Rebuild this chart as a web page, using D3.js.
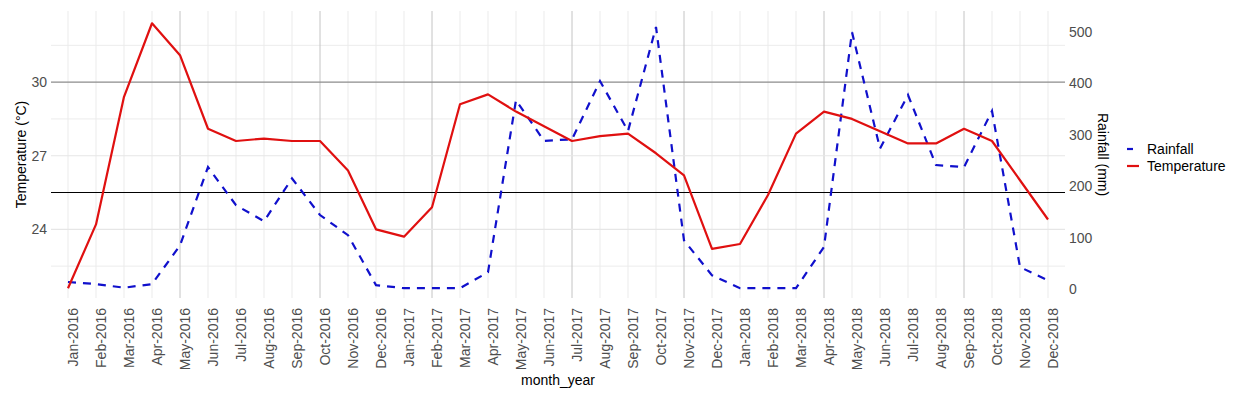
<!DOCTYPE html>
<html>
<head>
<meta charset="utf-8">
<script src="https://cdn.jsdelivr.net/npm/d3@7"></script>
<style>
  body { margin: 0; background: #fff; }
  svg { display: block; font-family: "Liberation Sans", Arial, sans-serif; }
</style>
</head>
<body>
<script>
// months shown on the x axis
var months = ["Jan-2016","Feb-2016","Mar-2016","Apr-2016","May-2016","Jun-2016","Jul-2016","Aug-2016",
  "Sep-2016","Oct-2016","Nov-2016","Dec-2016","Jan-2017","Feb-2017","Mar-2017","Apr-2017","May-2017",
  "Jun-2017","Jul-2017","Aug-2017","Sep-2017","Oct-2017","Nov-2017","Dec-2017","Jan-2018","Feb-2018",
  "Mar-2018","Apr-2018","May-2018","Jun-2018","Jul-2018","Aug-2018","Sep-2018","Oct-2018","Nov-2018","Dec-2018"];

// mean temperature (°C)
var temperature = [21.6, 24.2, 29.4, 32.4, 31.1, 28.1, 27.6, 27.7, 27.6, 27.6, 26.4, 24.0,
  23.7, 24.9, 29.1, 29.5, 28.8, 28.2, 27.6, 27.8, 27.9, 27.1, 26.2, 23.2,
  23.4, 25.4, 27.9, 28.8, 28.5, 28.0, 27.5, 27.5, 28.1, 27.6, 26.0, 24.4];

// rainfall (mm)
var rainfall = [14, 10, 3, 10, 85, 237, 163, 132, 215, 144, 105, 8,
  2, 2, 2, 33, 367, 288, 291, 404, 307, 509, 95, 27,
  2, 2, 2, 82, 499, 273, 377, 241, 237, 346, 43, 17];

var tempTicks = [24, 27, 30];
var tempMinor = [22.5, 25.5, 28.5, 31.5];
var rainTicks = [0, 100, 200, 300, 400, 500];
var refTemp = 25.5;

var W = 1241, H = 396;
var panel = {left: 51, right: 1065, top: 11, bottom: 298};

var svg = d3.select("body").append("svg")
  .attr("width", W)
  .attr("height", H);

var x = d3.scalePoint()
  .domain(months)
  .range([68, 1048]);

var yT = d3.scaleLinear()
  .domain([21.2, 32.9])
  .range([panel.bottom, panel.top]);

var yR = d3.scaleLinear()
  .domain([-17, 540])
  .range([panel.bottom, panel.top]);

// grid
var grid = svg.append("g");
grid.selectAll("line.minor")
  .data(tempMinor).enter()
  .append("line")
  .attr("x1", panel.left).attr("x2", panel.right)
  .attr("y1", d => yT(d)).attr("y2", d => yT(d))
  .attr("stroke", "#ececec").attr("stroke-width", 1);

// vertical gridlines; a few render darker in the reference
var darkMonths = ["May-2016","Oct-2016","Feb-2017","Jul-2017","Nov-2017","Apr-2018","Sep-2018"];
grid.selectAll("line.vx")
  .data(months).enter()
  .append("line")
  .attr("x1", d => x(d)).attr("x2", d => x(d))
  .attr("y1", panel.top).attr("y2", panel.bottom)
  .attr("stroke", d => darkMonths.indexOf(d) >= 0 ? "#c4c4c4" : "#ebebeb")
  .attr("stroke-width", 1);

grid.selectAll("line.major")
  .data(tempTicks).enter()
  .append("line")
  .attr("x1", panel.left).attr("x2", panel.right)
  .attr("y1", d => yT(d)).attr("y2", d => yT(d))
  .attr("stroke", d => d == 30 ? "#8c8c8c" : "#e6e6e6")
  .attr("stroke-width", 1.2);

// reference line
svg.append("line")
  .attr("x1", panel.left).attr("x2", panel.right)
  .attr("y1", yT(refTemp)).attr("y2", yT(refTemp))
  .attr("stroke", "#000").attr("stroke-width", 1.2);

// lines
var rainLine = d3.line()
  .x((d, i) => x(months[i]))
  .y(d => yR(d));

var tempLine = d3.line()
  .x((d, i) => x(months[i]))
  .y(d => yT(d));

svg.append("path")
  .datum(rainfall)
  .attr("fill", "none")
  .attr("stroke", "#1010cc")
  .attr("stroke-width", 2.2)
  .attr("stroke-dasharray", "8,7")
  .attr("d", rainLine);

svg.append("path")
  .datum(temperature)
  .attr("fill", "none")
  .attr("stroke", "#e01010")
  .attr("stroke-width", 2.2)
  .attr("stroke-linejoin", "round")
  .attr("d", tempLine);

// left axis labels
svg.append("g").selectAll("text")
  .data(tempTicks).enter()
  .append("text")
  .attr("x", 47)
  .attr("y", d => yT(d))
  .attr("dy", "0.35em")
  .attr("text-anchor", "end")
  .attr("font-size", 14)
  .attr("fill", "#4d4d4d")
  .text(d => d);

// right axis labels
svg.append("g").selectAll("text")
  .data(rainTicks).enter()
  .append("text")
  .attr("x", 1069)
  .attr("y", d => yR(d))
  .attr("dy", "0.35em")
  .attr("text-anchor", "start")
  .attr("font-size", 14)
  .attr("fill", "#4d4d4d")
  .text(d => d);

// x axis labels (glyph tops sit on the gridline, like ggplot's vjust)
svg.append("g").selectAll("text")
  .data(months).enter()
  .append("text")
  .attr("transform", d => "translate(" + x(d) + ",308) rotate(-90)")
  .attr("dy", "0.72em")
  .attr("text-anchor", "end")
  .attr("font-size", 14)
  .attr("fill", "#4d4d4d")
  .text(d => d);

// axis titles
svg.append("text")
  .attr("transform", "translate(26," + ((panel.top + panel.bottom) / 2) + ") rotate(-90)")
  .attr("text-anchor", "middle")
  .attr("font-size", 14)
  .attr("fill", "#000")
  .text("Temperature (°C)");

svg.append("text")
  .attr("transform", "translate(1098," + ((panel.top + panel.bottom) / 2) + ") rotate(90)")
  .attr("text-anchor", "middle")
  .attr("font-size", 14)
  .attr("fill", "#000")
  .text("Rainfall (mm)");

svg.append("text")
  .attr("x", (panel.left + panel.right) / 2)
  .attr("y", 385)
  .attr("text-anchor", "middle")
  .attr("font-size", 14)
  .attr("fill", "#000")
  .text("month_year");

// legend
var legend = svg.append("g").attr("transform", "translate(1125,149)");
var keys = [
  {name: "Rainfall", color: "#1010cc", len: 6},
  {name: "Temperature", color: "#e01010", len: 12}
];
keys.forEach(function(k, i) {
  legend.append("line")
    .attr("x1", 2).attr("x2", 2 + k.len)
    .attr("y1", i * 17).attr("y2", i * 17)
    .attr("stroke", k.color).attr("stroke-width", 2.2);
  legend.append("text")
    .attr("x", 22)
    .attr("y", i * 17)
    .attr("dy", "0.35em")
    .attr("font-size", 14)
    .attr("fill", "#000")
    .text(k.name);
});
</script>
</body>
</html>
